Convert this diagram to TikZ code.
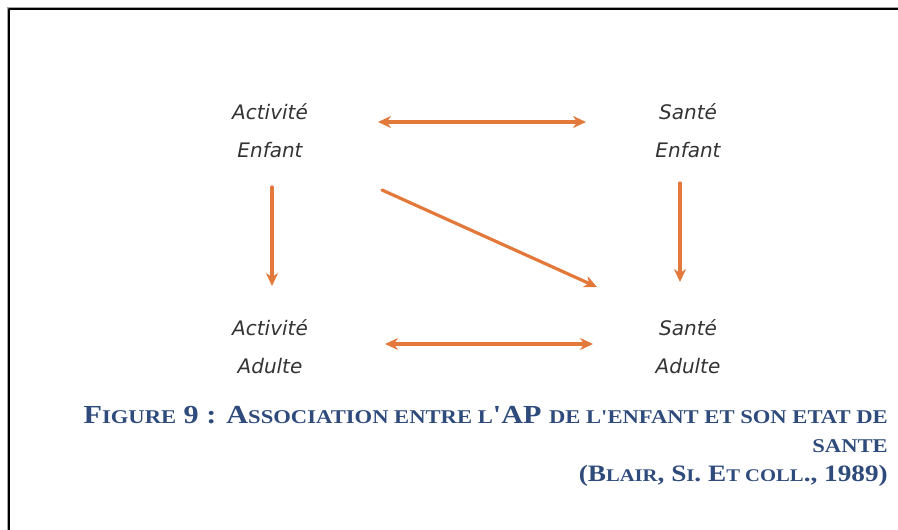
\documentclass[tikz,border=0pt]{standalone}
\usepackage{fontspec}
\usetikzlibrary{arrows.meta}
\newfontfamily\lblfont{DejaVu Sans}
\newfontfamily\capfont[FakeStretch=1.16]{Liberation Serif}
\definecolor{arrorange}{HTML}{E2793A}
\definecolor{capblue}{HTML}{2F4B7C}
\newcommand\sm[1]{{\fontsize{19.5}{19.5}\selectfont #1}}
\newcommand\smref[1]{{\fontsize{17.8}{17.8}\selectfont #1}}
\begin{document}
\begin{tikzpicture}[x=1pt,y=-1pt,>={Stealth[length=13pt,width=12pt]},line join=round,line cap=round,
	lbl/.style={inner sep=0pt,align=center,text=black!80,font=\lblfont\itshape\fontsize{20}{38}\selectfont},
	arr/.style={draw=arrorange,line width=3.2pt}]
	\useasboundingbox (0,0) rectangle (898,530);
	% cadre
	\draw[black!35,line width=1pt] (7,530)--(7,7)--(898,7);
	\draw[line width=1.6pt] (9,530)--(9,9)--(898,9);
	% les quatre blocs
	\node[lbl] (ae) at (270,131) {Activité\\Enfant};
	\node[lbl] (se) at (688,131) {Santé\\Enfant};
	\node[lbl] (aa) at (270,347) {Activité\\Adulte};
	\node[lbl] (sa) at (688,347) {Santé\\Adulte};
	% fleches
	\draw[arr,<->] ([shift={(108,-9)}]ae.center)--([shift={(-102,-9)}]se.center);
	\draw[arr,->] ([shift={(2,56)}]ae.center)--([shift={(2,-61)}]aa.center);
	\draw[arr,->] ([shift={(-8,52)}]se.center)--([shift={(-8,-65)}]sa.center);
	\draw[arr,->] ([shift={(112,59)}]ae.center)--([shift={(-91,-60)}]sa.center);
	\draw[arr,<->] ([shift={(115,-3)}]aa.center)--([shift={(-95,-3)}]sa.center);
	% legende
	\node[inner sep=0pt,anchor=north east,align=right,text=capblue,
		font=\capfont\bfseries\fontsize{26}{29}\selectfont] (cap) at (888,406)
		{F\sm{IGURE} 9 : A\sm{SSOCIATION ENTRE L}'AP \sm{DE L'ENFANT ET SON ETAT DE}\\
		\sm{SANTE}\\
		{\fontsize{23.5}{29}\selectfont (B\smref{LAIR}, S\smref{I}. E\smref{T COLL}., 1989)}};
\end{tikzpicture}
\end{document}
